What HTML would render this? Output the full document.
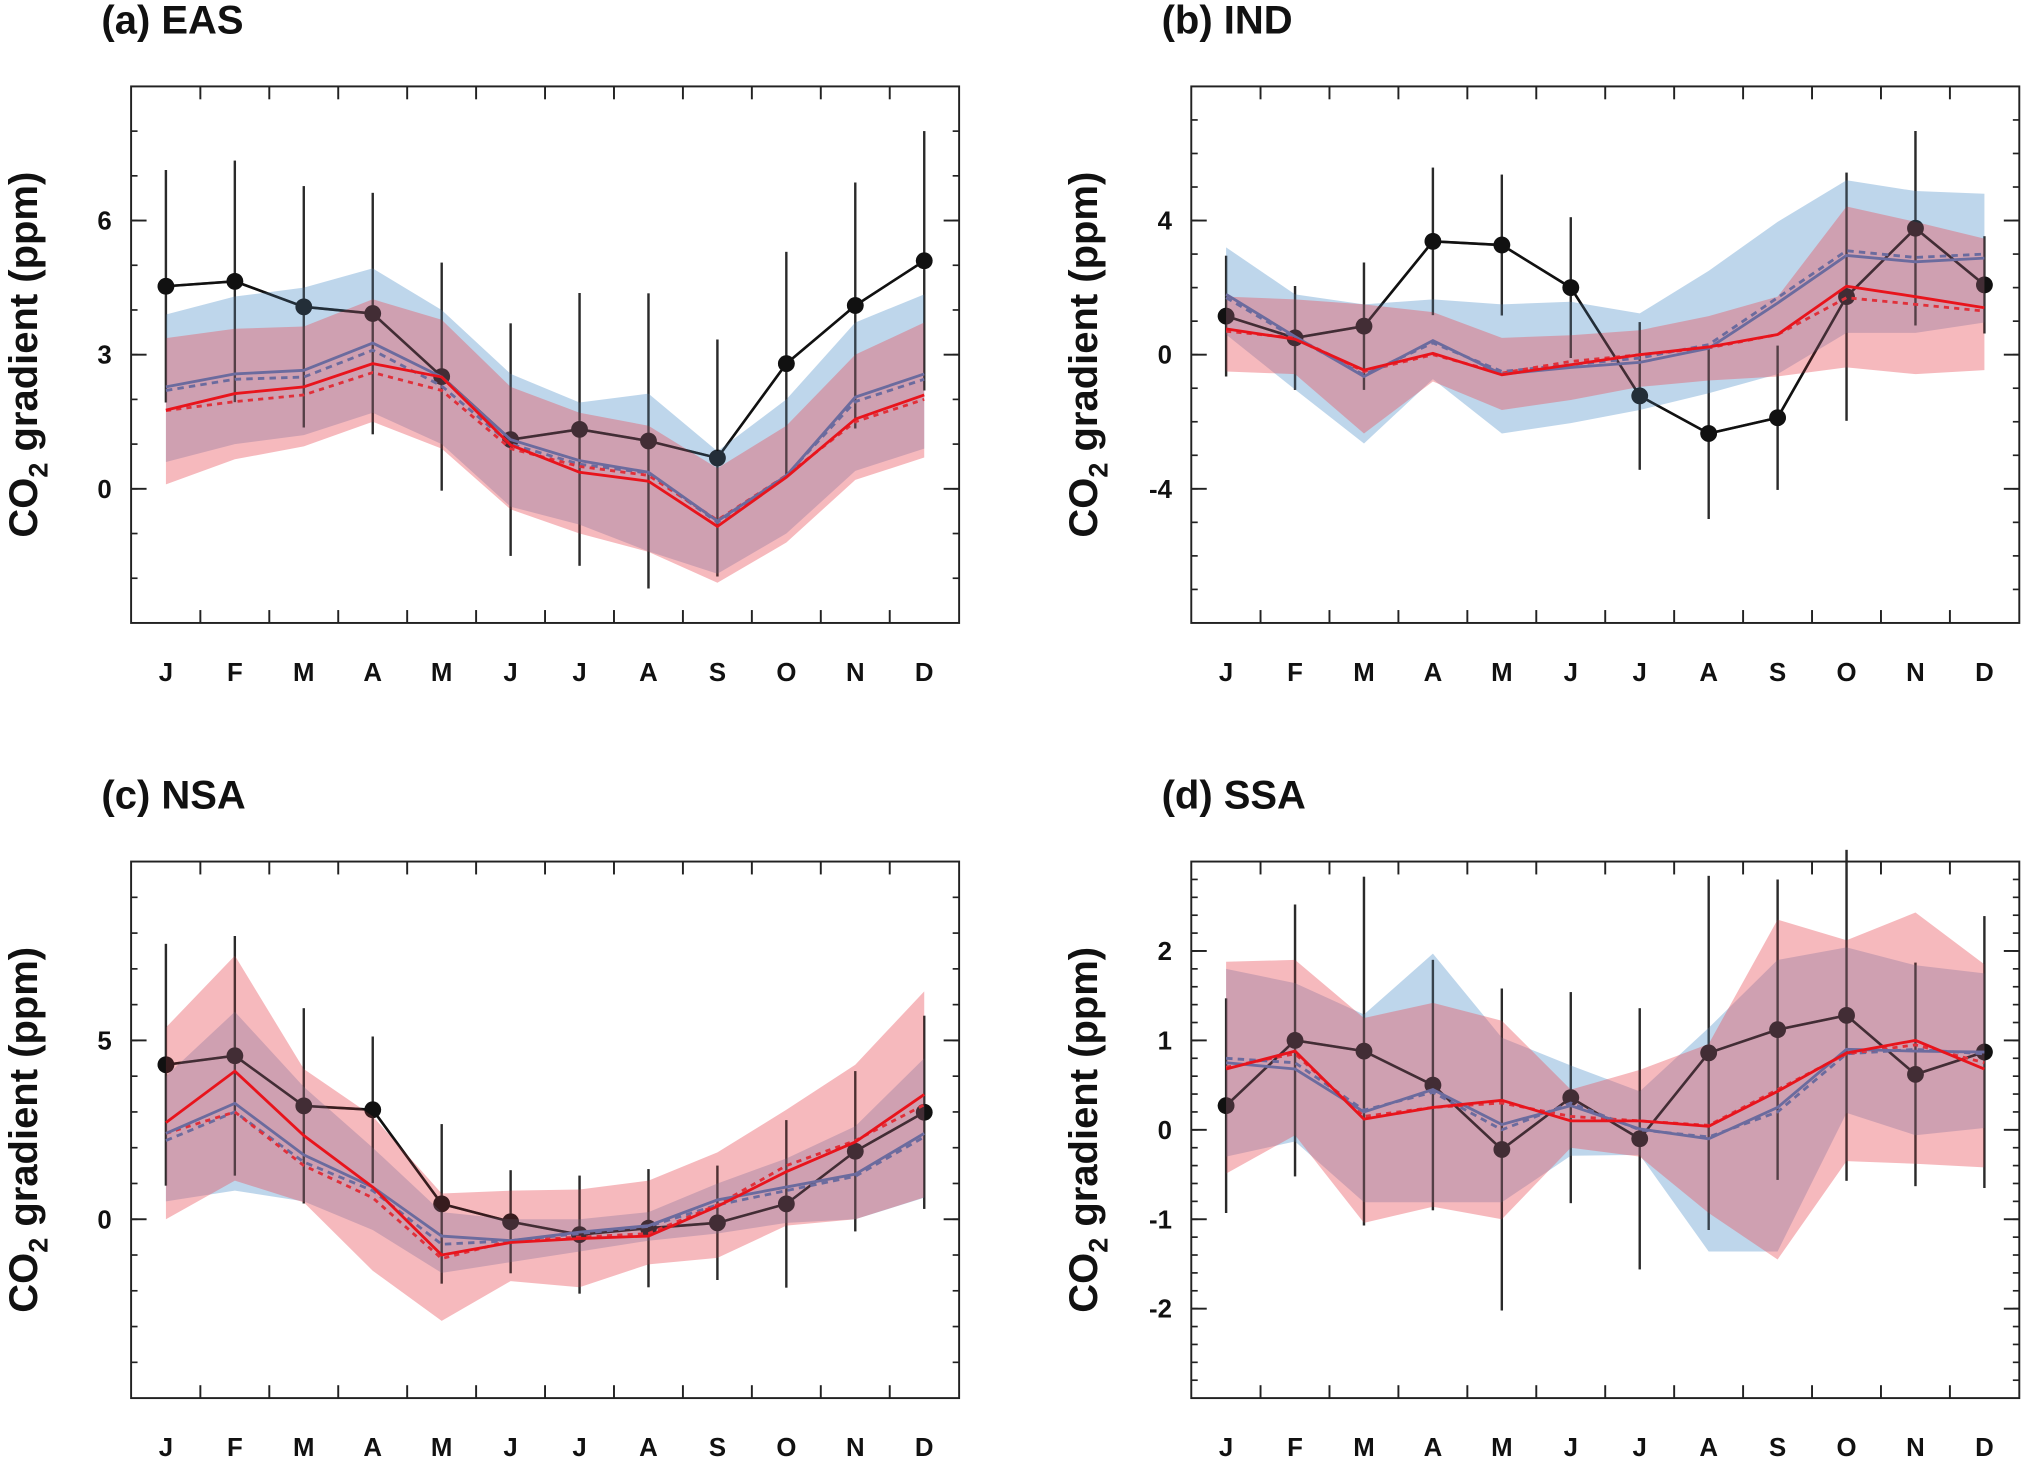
<!DOCTYPE html>
<html><head><meta charset="utf-8"><style>
html,body{margin:0;padding:0;background:#fff;}
svg{display:block;}
text{font-family:"Liberation Sans",Arial,sans-serif;font-weight:bold;fill:#111;}
</style></head>
<body>
<svg id="fig" width="2024" height="1460" viewBox="0 0 1568 1132" xmlns="http://www.w3.org/2000/svg"></svg>
<script>
const months = ["J","F","M","A","M","J","J","A","S","O","N","D"];
// Panel (a) EAS
const obsA = [4.53,4.64,4.07,3.92,2.51,1.1,1.33,1.07,0.69,2.8,4.1,5.1];
const sdA = [2.6,2.7,2.7,2.7,2.55,2.6,3.05,3.3,2.65,2.5,2.75,2.9];
const redA = [1.76,2.13,2.28,2.8,2.5,0.98,0.37,0.17,-0.84,0.26,1.56,2.1];
const redDashA = [1.75,1.95,2.1,2.6,2.2,0.9,0.5,0.3,-0.7,0.3,1.5,2.0];
const purA = [2.28,2.57,2.65,3.26,2.5,1.1,0.63,0.37,-0.72,0.29,2.05,2.57];
const purDashA = [2.2,2.45,2.5,3.1,2.3,1.0,0.55,0.35,-0.75,0.3,1.95,2.45];
const blueHiA = [3.9,4.3,4.5,4.93,4.0,2.57,1.93,2.13,0.84,2.0,3.72,4.35];
const blueLoA = [0.6,1.0,1.2,1.7,1.0,-0.4,-0.8,-1.4,-1.9,-1.0,0.4,0.9];
const redHiA = [3.37,3.58,3.63,4.24,3.78,2.28,1.7,1.41,0.46,1.41,3.0,3.72];
const redLoA = [0.1,0.66,0.95,1.5,0.9,-0.46,-1.0,-1.41,-2.1,-1.2,0.2,0.7];
const ticksA = [0,3,6];
// Panel (b) IND
const obsB = [1.15,0.5,0.85,3.38,3.27,2.0,-1.23,-2.35,-1.88,1.73,3.77,2.08];
const sdB = [1.8,1.55,1.9,2.2,2.1,2.1,2.2,2.55,2.15,3.7,2.9,1.45];
const redB = [0.77,0.46,-0.46,0.04,-0.6,-0.3,0,0.23,0.6,2.04,1.73,1.4];
const redDashB = [0.7,0.5,-0.5,0.0,-0.55,-0.2,0.0,0.2,0.6,1.7,1.5,1.3];
const purB = [1.8,0.54,-0.65,0.42,-0.58,-0.38,-0.23,0.19,1.54,2.96,2.77,2.88];
const purDashB = [1.7,0.5,-0.6,0.35,-0.5,-0.3,-0.1,0.3,1.7,3.1,2.9,3.0];
const blueHiB = [3.2,1.8,1.5,1.65,1.5,1.58,1.23,2.5,3.96,5.2,4.88,4.8];
const blueLoB = [0.6,-1.04,-2.65,-0.73,-2.35,-2.04,-1.65,-1.15,-0.58,0.65,0.65,0.96];
const redHiB = [1.73,1.65,1.5,1.27,0.5,0.58,0.73,1.15,1.73,4.42,3.96,3.46];
const redLoB = [-0.5,-0.58,-2.35,-0.8,-1.65,-1.35,-0.96,-0.77,-0.65,-0.38,-0.58,-0.46];
const ticksB = [-4,0,4];
// Panel (c) NSA
const obsC = [4.32,4.57,3.17,3.06,0.43,-0.07,-0.43,-0.25,-0.1,0.43,1.9,2.99];
const sdC = [3.38,3.35,2.73,2.05,2.23,1.44,1.65,1.65,1.6,2.34,2.24,2.7];
const redC = [2.7,4.14,2.34,0.9,-1.0,-0.65,-0.54,-0.47,0.36,1.33,2.16,3.49];
const redDashC = [2.4,3.0,1.5,0.6,-1.1,-0.6,-0.5,-0.4,0.4,1.5,2.2,3.2];
const purC = [2.4,3.24,1.8,0.9,-0.47,-0.6,-0.36,-0.18,0.54,0.9,1.26,2.4];
const purDashC = [2.2,3.0,1.6,0.8,-0.7,-0.6,-0.4,-0.2,0.4,0.8,1.2,2.3];
const blueHiC = [4.0,5.8,3.7,2.0,0.2,0.0,0.0,0.2,1.0,1.7,2.6,4.5];
const blueLoC = [0.5,0.8,0.5,-0.3,-1.5,-1.2,-0.9,-0.6,-0.4,-0.1,0.0,0.6];
const redHiC = [5.36,7.37,4.2,2.88,0.72,0.8,0.83,1.08,1.87,3.06,4.32,6.37];
const redLoC = [0,1.08,0.47,-1.44,-2.84,-1.73,-1.9,-1.26,-1.08,-0.18,0,0.61];
const ticksC = [0,5];
// Panel (d) SSA
const obsD = [0.27,1.0,0.88,0.5,-0.22,0.36,-0.1,0.86,1.12,1.28,0.62,0.87];
const sdD = [1.2,1.52,1.95,1.4,1.8,1.18,1.46,1.98,1.68,1.85,1.25,1.52];
const redD = [0.68,0.88,0.12,0.25,0.33,0.1,0.1,0.04,0.43,0.86,1.0,0.68];
const redDashD = [0.7,0.85,0.15,0.25,0.3,0.15,0.1,0.05,0.45,0.85,0.95,0.75];
const purD = [0.75,0.68,0.2,0.45,0.06,0.27,0.01,-0.1,0.25,0.9,0.88,0.87];
const purDashD = [0.8,0.75,0.22,0.42,0.0,0.3,0.0,-0.08,0.2,0.85,0.9,0.85];
const blueHiD = [1.8,1.64,1.29,1.97,1.03,0.72,0.43,1.14,1.9,2.04,1.84,1.75];
const blueLoD = [-0.3,-0.13,-0.81,-0.81,-0.81,-0.29,-0.28,-1.36,-1.36,0.19,-0.06,0.02];
const redHiD = [1.88,1.9,1.25,1.42,1.22,0.45,0.67,0.96,2.35,2.12,2.43,1.85];
const redLoD = [-0.49,-0.06,-1.04,-0.86,-1.0,-0.2,-0.3,-0.93,-1.45,-0.35,-0.38,-0.42];
const ticksD = [-2,-1,0,1,2];

const NS="http://www.w3.org/2000/svg";
const svg=document.getElementById('fig');
function el(tag,attrs,parent){const e=document.createElementNS(NS,tag);for(const k in attrs)e.setAttribute(k,attrs[k]);(parent||svg).appendChild(e);return e;}

function panel(cfg){
  const g=el('g',{});
  
  
  const L=cfg.x0,R=cfg.x0+642,T=cfg.y0,B=cfg.y0+416;
  const xs=i=>L+27+i*53.45;
  const ys=v=>B-(v-cfg.ymin)/(cfg.ymax-cfg.ymin)*(B-T);
  const t=el('text',{x:L-23,y:T-41,'font-size':31},g);t.textContent=cfg.title;
  
  
  const yl=el('text',{transform:`translate(${L-73},${(T+B)/2}) rotate(-90)`,'text-anchor':'middle','font-size':31},g);
  
  
  yl.innerHTML='CO<tspan font-size="21" dy="8">2</tspan><tspan dy="-8"> gradient (ppm)</tspan>';
  function drawObs(parent,opacity){
    const og=el('g',{opacity:opacity},parent);
    
    
    cfg.obs.forEach((v,i)=>{
      const ln=el('line',{x1:xs(i),x2:xs(i),y1:ys(v-cfg.sd[i]),y2:ys(v+cfg.sd[i]),stroke:'#2a2a2a','stroke-width':1.8},og);
      
      
    });
    const op=el('polyline',{points:cfg.obs.map((v,i)=>xs(i)+','+ys(v)).join(' '),fill:'none',stroke:'#111','stroke-width':2},og);
    
    
    cfg.obs.forEach((v,i)=>{
      const c=el('circle',{cx:xs(i),cy:ys(v),r:6.5,fill:'#111'},og);
      
      
    });
  }
  drawObs(g,1);
  function band(hi,lo,fill,op,name){
    const pts=hi.map((v,i)=>xs(i)+','+ys(v)).concat(lo.map((v,i)=>xs(i)+','+ys(v)).reverse());
    const p=el('polygon',{points:pts.join(' '),fill:fill,'fill-opacity':op},g);
    
    
  }
  band(cfg.blueHi,cfg.blueLo,'rgb(110,165,210)',0.45,'blue-spread-band');
  band(cfg.redHi,cfg.redLo,'rgb(232,80,90)',0.4,'red-spread-band');
  drawObs(g,0.55);
  function line(arr,col,dash,name){
    const p=el('polyline',{points:arr.map((v,i)=>xs(i)+','+ys(v)).join(' '),fill:'none',stroke:col,'stroke-width':2.2},g);
    if(dash)p.setAttribute('stroke-dasharray',dash);
    
    
  }
  line(cfg.purDash,'#6b6b9e','5,4','purple-dashed-line');
  line(cfg.redDash,'#e0303a','4,4','red-dashed-line');
  line(cfg.pur,'#6b6b9e',null,'purple-line');
  line(cfg.red,'#e8141c',null,'red-line');
  const fr=el('rect',{x:L,y:T,width:R-L,height:B-T,fill:'none',stroke:'#222','stroke-width':1.5},g);
  
  
  for(let i=0;i<11;i++){
    const x=xs(i)+26.7;
    el('line',{x1:x,x2:x,y1:B,y2:B-10,stroke:'#222','stroke-width':1.5},g);
    el('line',{x1:x,x2:x,y1:T,y2:T+10,stroke:'#222','stroke-width':1.5},g);
  }
  months.forEach((m,i)=>{
    const tx=el('text',{x:xs(i),y:B+45,'text-anchor':'middle','font-size':20},g);
    tx.textContent=m;
    
    
  });
  for(let v=Math.ceil(cfg.ymin/cfg.minor)*cfg.minor;v<=cfg.ymax+1e-9;v+=cfg.minor){
    const y=ys(v);
    if(y<=T+1||y>=B-1)continue;
    el('line',{x1:L,x2:L+5,y1:y,y2:y,stroke:'#222','stroke-width':1.3},g);
    el('line',{x1:R,x2:R-5,y1:y,y2:y,stroke:'#222','stroke-width':1.3},g);
  }
  cfg.ticks.forEach(v=>{
    const y=ys(v);
    el('line',{x1:L,x2:L+12,y1:y,y2:y,stroke:'#222','stroke-width':1.5},g);
    el('line',{x1:R,x2:R-12,y1:y,y2:y,stroke:'#222','stroke-width':1.5},g);
    const tx=el('text',{x:L-15,y:y+7,'text-anchor':'end','font-size':20},g);
    tx.textContent=String(v);
    
    
  });
}
panel({id:'eas',title:'(a) EAS',x0:101,y0:67,ymin:-3,ymax:9,minor:1,ticks:ticksA,obs:obsA,sd:sdA,red:redA,redDash:redDashA,pur:purA,purDash:purDashA,blueHi:blueHiA,blueLo:blueLoA,redHi:redHiA,redLo:redLoA});
panel({id:'ind',title:'(b) IND',x0:923,y0:67,ymin:-8,ymax:8,minor:1,ticks:ticksB,obs:obsB,sd:sdB,red:redB,redDash:redDashB,pur:purB,purDash:purDashB,blueHi:blueHiB,blueLo:blueLoB,redHi:redHiB,redLo:redLoB});
panel({id:'nsa',title:'(c) NSA',x0:101,y0:668,ymin:-5,ymax:10,minor:1,ticks:ticksC,obs:obsC,sd:sdC,red:redC,redDash:redDashC,pur:purC,purDash:purDashC,blueHi:blueHiC,blueLo:blueLoC,redHi:redHiC,redLo:redLoC});
panel({id:'ssa',title:'(d) SSA',x0:923,y0:668,ymin:-3,ymax:3,minor:0.2,ticks:ticksD,obs:obsD,sd:sdD,red:redD,redDash:redDashD,pur:purD,purDash:purDashD,blueHi:blueHiD,blueLo:blueLoD,redHi:redHiD,redLo:redLoD});
</script>
</body></html>
